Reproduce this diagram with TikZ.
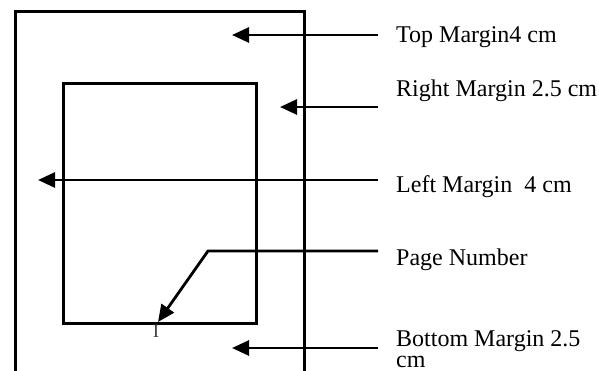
\documentclass[tikz,border=0pt]{standalone}
\usepackage{fontspec}
\setmainfont{Liberation Serif}
\usetikzlibrary{arrows.meta}
\begin{document}
\begin{tikzpicture}[x=1pt,y=-1pt,
  frame/.style={line width=3pt},
  pointer/.style={line width=2.8pt,-{Triangle[length=17pt,width=15pt]}},
  label/.style={anchor=base west,inner sep=0pt,font=\fontsize{24}{28}\selectfont,align=left}]
\useasboundingbox (0,0) rectangle (599,370);
% page outline (open at the bottom)
\draw[frame] (15,375) -- (15,11) -- (304,11) -- (304,375);
% text area
\draw[frame] (63,83) rectangle (256,323);
% page number mark
\node[inner sep=0pt,font=\fontsize{19}{19}\selectfont,text=black!75] (pn) at (156,331.5) {I};
% labels
\node[label] (top) at (396,42.5) {Top Margin4 cm};
\node[label] (right) at (396,96.5) {Right Margin 2.5 cm};
\node[label] (left) at (396,192.5) {Left Margin\ \ 4 cm};
\node[label] (page) at (396,265) {Page Number};
\node[label] (bottom) at (396,346.5) {Bottom Margin 2.5};
\node[label] (bottom2) at (396,367.5) {cm};
% line starts
\coordinate (s1) at (378,35);
\coordinate (s2) at (378,107);
\coordinate (s3) at (378,180);
\coordinate (s4) at (378,251);
\coordinate (s5) at (378,348);
% arrow tips
\coordinate (t1) at (232,35);
\coordinate (t2) at (280,107);
\coordinate (t3) at (38,180);
\coordinate (b4) at (208,251);
\coordinate (t4) at (158,322);
\coordinate (t5) at (232,348);
\draw[pointer] (s1) -- (t1);
\draw[pointer] (s2) -- (t2);
\draw[pointer] (s3) -- (t3);
\draw[pointer] (s4) -- (b4) -- (t4);
\draw[pointer] (s5) -- (t5);
\end{tikzpicture}
\end{document}
